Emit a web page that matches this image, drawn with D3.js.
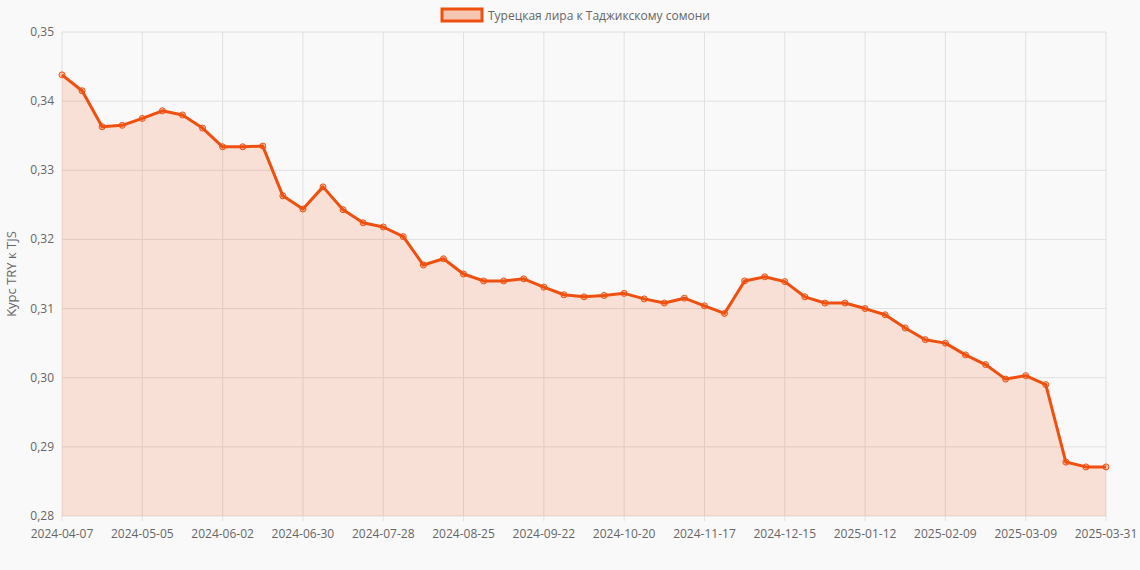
<!DOCTYPE html>
<html><head><meta charset="utf-8">
<script src="https://cdn.jsdelivr.net/npm/d3@7"></script>
<style>body{margin:0;background:#f9f9f9;}svg{font-family:"Open Sans",Arial,sans-serif;}</style>
</head><body><svg id="chart" width="1140" height="570"></svg>
<script>
// Weekly dates (category axis)
const dates = ["2024-04-07","2024-04-14","2024-04-21","2024-04-28","2024-05-05","2024-05-12","2024-05-19","2024-05-26",
  "2024-06-02","2024-06-09","2024-06-16","2024-06-23","2024-06-30","2024-07-07","2024-07-14","2024-07-21",
  "2024-07-28","2024-08-04","2024-08-11","2024-08-18","2024-08-25","2024-09-01","2024-09-08","2024-09-15",
  "2024-09-22","2024-09-29","2024-10-06","2024-10-13","2024-10-20","2024-10-27","2024-11-03","2024-11-10",
  "2024-11-17","2024-11-24","2024-12-01","2024-12-08","2024-12-15","2024-12-22","2024-12-29","2025-01-05",
  "2025-01-12","2025-01-19","2025-01-26","2025-02-02","2025-02-09","2025-02-16","2025-02-23","2025-03-02",
  "2025-03-09","2025-03-16","2025-03-23","2025-03-30","2025-03-31"];
const rates = [0.3438,0.3415,0.3363,0.3365,0.3375,0.3386,0.3380,0.3361,0.3334,0.3334,0.3335,0.3263,0.3244,
  0.3276,0.3243,0.3224,0.3218,0.3204,0.3163,0.3172,0.3150,0.3140,0.3140,0.3143,0.3131,0.3120,0.3117,0.3119,
  0.3122,0.3114,0.3108,0.3115,0.3104,0.3093,0.3140,0.3146,0.3139,0.3117,0.3108,0.3108,0.3100,0.3091,0.3072,
  0.3055,0.3050,0.3033,0.3019,0.2998,0.3003,0.2990,0.2878,0.2871,0.2871];
const tickLabels = ["2024-04-07","2024-05-05","2024-06-02","2024-06-30","2024-07-28","2024-08-25","2024-09-22",
  "2024-10-20","2024-11-17","2024-12-15","2025-01-12","2025-02-09","2025-03-09","2025-03-31"];
const yTicks = [0.28,0.29,0.30,0.31,0.32,0.33,0.34,0.35];
const seriesName = "Турецкая лира к Таджикскому сомони";

const svg = d3.select("#chart");
const plotLeft = 62, plotRight = 1106, plotTop = 32, plotBottom = 516;
const lineColor = "#f0500f";

let x = d3.scalePoint().domain(dates).range([plotLeft, plotRight]);
let y = d3.scaleLinear().domain([0.28, 0.35]).range([plotBottom, plotTop]);

// Grid
svg.append("g").selectAll("line").data(yTicks).join("line")
  .attr("x1", plotLeft).attr("x2", plotRight).attr("y1", d => y(d)).attr("y2", d => y(d))
  .attr("stroke", "#e0e0e0");
svg.append("g").selectAll("line").data(tickLabels).join("line")
  .attr("x1", d => x(d)).attr("x2", d => x(d)).attr("y1", plotTop).attr("y2", plotBottom + 5)
  .attr("stroke", "#e0e0e0");

// Area + line
let pts = dates.map((d, i) => [x(d), y(rates[i])]);
svg.append("path").datum(pts)
  .attr("d", d3.area().x(p => p[0]).y0(plotBottom).y1(p => p[1]))
  .attr("fill", "rgba(240,80,15,0.15)");
svg.append("path").datum(pts)
  .attr("d", d3.line())
  .attr("fill", "none").attr("stroke", lineColor).attr("stroke-width", 3).attr("stroke-linejoin", "round");
svg.append("g").selectAll("circle").data(pts).join("circle")
  .attr("cx", p => p[0]).attr("cy", p => p[1]).attr("r", 3)
  .attr("fill", "rgba(240,80,15,0.3)").attr("stroke", lineColor).attr("stroke-width", 1);

// Axis labels
svg.append("g").selectAll("text").data(yTicks).join("text")
  .attr("x", plotLeft - 8).attr("y", d => y(d) + 4).attr("text-anchor", "end")
  .attr("font-size", 12).attr("fill", "#666").text(d => d.toFixed(2).replace(".", ","));
svg.append("g").selectAll("text").data(tickLabels).join("text")
  .attr("x", d => x(d)).attr("y", plotBottom + 22).attr("text-anchor", "middle")
  .attr("font-size", 12).attr("fill", "#666").text(d => d);
svg.append("text").attr("transform", `translate(16,${(plotTop + plotBottom) / 2}) rotate(-90)`)
  .attr("text-anchor", "middle").attr("font-size", 13).attr("fill", "#666").text("Курс TRY к TJS");

// Legend
svg.append("rect").attr("x", 442).attr("y", 9).attr("width", 40).attr("height", 12)
  .attr("fill", "rgba(240,80,15,0.3)").attr("stroke", lineColor).attr("stroke-width", 3);
svg.append("text").attr("x", 488).attr("y", 19.5).attr("font-size", 12).attr("fill", "#666").text(seriesName);
</script></body></html>
